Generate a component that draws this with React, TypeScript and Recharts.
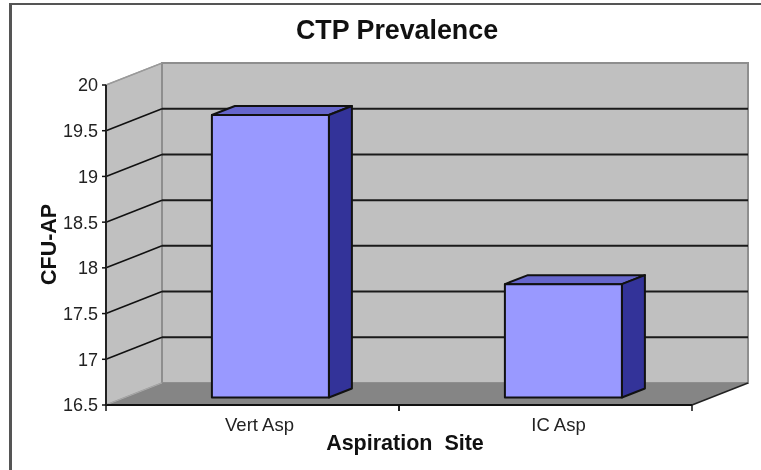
import { BarChart, Bar, XAxis, YAxis, CartesianGrid } from "recharts";

const categories = ["Vert Asp", "IC Asp"];
const cfuValues = [19.59, 17.74];
const yTicks = [16.5, 17, 17.5, 18, 18.5, 19, 19.5, 20];

const data = categories.map((site, i) => ({ site, cfu: cfuValues[i] }));

const FONT = "'Liberation Sans', Arial, sans-serif";

// wall depth of the fake 3D box, and of the bars inside it
const WALL_DX = 56;
const WALL_DY = -22;
const BAR_DX = 23;
const BAR_DY = -9;
const BAR_SHIFT_X = 18;
const BAR_SHIFT_Y = -7.5;

// one grid line per y tick: side wall diagonal + back wall line.
// the first line drawn also paints the walls and the floor underneath
const GridLine = (p: any) => {
  const { x1, x2, y1, index, y: top, height } = p;
  const bottom = top + height;
  const backLeft = x1 + WALL_DX;
  const backRight = x2 + WALL_DX;
  const backY = y1 + WALL_DY;
  const isFloor = y1 > bottom - 1;
  const isTop = y1 < top + 1;
  return (
    <g>
      {index === 0 && (
        <>
          <polygon
            points={`${x1},${top} ${backLeft},${top + WALL_DY} ${backLeft},${bottom + WALL_DY} ${x1},${bottom}`}
            fill="#c0c0c0"
            stroke="#9a9a9a"
            strokeWidth={1.5}
          />
          <rect
            x={backLeft}
            y={top + WALL_DY}
            width={x2 - x1}
            height={height}
            fill="#c0c0c0"
            stroke="#8e8e8e"
            strokeWidth={2}
          />
          <polygon
            points={`${x1},${bottom} ${x2},${bottom} ${backRight},${bottom + WALL_DY} ${backLeft},${bottom + WALL_DY}`}
            fill="#858585"
          />
        </>
      )}
      {isFloor && (
        <>
          <line x1={x2} y1={y1} x2={backRight} y2={backY} stroke="#222" strokeWidth={1.5} />
          <line x1={x1} y1={y1} x2={backLeft} y2={backY} stroke="#aaa" strokeWidth={1} />
        </>
      )}
      {!isFloor && !isTop && (
        <>
          <line x1={x1} y1={y1} x2={backLeft} y2={backY} stroke="#111" strokeWidth={1.6} />
          <line x1={backLeft} y1={backY} x2={backRight} y2={backY} stroke="#1a1a1a" strokeWidth={2} />
        </>
      )}
      {isTop && <line x1={x1} y1={y1} x2={backLeft} y2={backY} stroke="#9a9a9a" strokeWidth={1.2} />}
    </g>
  );
};

const Bar3D = (p: any) => {
  const { x, y, width, height } = p;
  const left = x + BAR_SHIFT_X;
  const right = left + width;
  const top = y + BAR_SHIFT_Y;
  const bottom = top + height;
  return (
    <g stroke="#111" strokeWidth={2} strokeLinejoin="round">
      <polygon
        points={`${left},${top} ${left + BAR_DX},${top + BAR_DY} ${right + BAR_DX},${top + BAR_DY} ${right},${top}`}
        fill="#6666cc"
      />
      <polygon
        points={`${right},${top} ${right + BAR_DX},${top + BAR_DY} ${right + BAR_DX},${bottom + BAR_DY} ${right},${bottom}`}
        fill="#333399"
      />
      <rect x={left} y={top} width={width} height={height} fill="#9999ff" />
    </g>
  );
};

// category label plus the tick marks at the band edges
const SiteTick = (p: any) => {
  const { x, y, payload, index } = p;
  const half = 146.5;
  return (
    <g>
      <line x1={x - half} y1={y - 8} x2={x - half} y2={y - 2} stroke="#111" strokeWidth={1.5} />
      <line x1={x + half} y1={y - 8} x2={x + half} y2={y - 2} stroke="#111" strokeWidth={1.5} />
      <text
        x={x + 7 + (index === 1 ? 6 : 0)}
        y={y + 18}
        textAnchor="middle"
        fontFamily={FONT}
        fontSize={18.5}
        fill="#222"
      >
        {payload.value}
      </text>
    </g>
  );
};

export default function App() {
  return (
    <div
      style={{
        position: "absolute",
        left: 0,
        top: 0,
        width: 761,
        height: 470,
        background: "#fff",
        overflow: "hidden",
        filter: "blur(0.45px)",
      }}
    >
      <div style={{ position: "absolute", left: 9, top: 3, right: 0, height: 2, background: "#555" }} />
      <div style={{ position: "absolute", left: 9, top: 3, bottom: 0, width: 3, background: "#555" }} />
      <div
        style={{
          position: "absolute",
          left: 0,
          top: 14,
          width: 794,
          textAlign: "center",
          fontFamily: FONT,
          fontWeight: "bold",
          fontSize: 26.8,
          lineHeight: "32px",
          color: "#111",
        }}
      >
        CTP Prevalence
      </div>
      <BarChart
        width={761}
        height={470}
        data={data}
        margin={{ top: 85, right: 69, bottom: 0, left: 0 }}
        barCategoryGap="30%"
        style={{ position: "absolute", left: 0, top: 0 }}
      >
        <CartesianGrid horizontal={GridLine} vertical={false} />
        <XAxis
          dataKey="site"
          height={65}
          interval={0}
          tick={SiteTick}
          tickLine={false}
          axisLine={{ stroke: "#111", strokeWidth: 2 }}
          label={{
            value: "Aspiration\u00a0\u00a0Site",
            position: "insideBottom",
            offset: 20,
            dx: 6,
            style: { fontFamily: FONT, fontWeight: "bold", fontSize: 21.5, fill: "#111" },
          }}
        />
        <YAxis
          width={106}
          domain={[16.5, 20]}
          ticks={yTicks}
          interval={0}
          tickSize={4}
          tickMargin={4}
          tickLine={{ stroke: "#111", strokeWidth: 1.5 }}
          axisLine={{ stroke: "#222", strokeWidth: 2 }}
          tick={{ fontFamily: FONT, fontSize: 18, fill: "#222" }}
          label={{
            value: "CFU-AP",
            angle: -90,
            position: "insideLeft",
            offset: 48,
            dy: 40,
            style: { fontFamily: FONT, fontWeight: "bold", fontSize: 21.5, fill: "#111" },
          }}
        />
        <Bar dataKey="cfu" shape={Bar3D} isAnimationActive={false} />
      </BarChart>
    </div>
  );
}
